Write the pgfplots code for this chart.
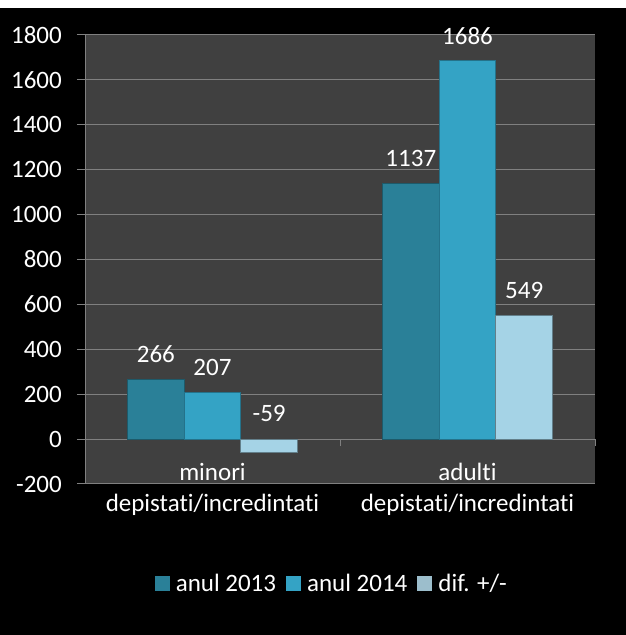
\documentclass[border=0pt]{standalone}
\usepackage{pgfplots}
\pgfplotsset{compat=1.18}
\usepackage{fontspec}
\setmainfont{Carlito}[Ligatures={NoCommon}]
\definecolor{plotbg}{RGB}{64,64,64}
\definecolor{gridc}{RGB}{128,128,128}
\definecolor{cA}{RGB}{42,128,152}
\definecolor{cB}{RGB}{52,163,197}
\definecolor{cC}{RGB}{165,211,230}
\begin{document}
\begin{tikzpicture}
\useasboundingbox (0,0) rectangle (626pt,635pt);
\fill[black] (0,0) rectangle (626pt,635pt);
\fill[white] (0,627pt) rectangle (626pt,635pt);
\begin{axis}[
  at={(85pt,151pt)}, anchor=south west,
  scale only axis, width=510pt, height=449pt,
  xmin=-0.5, xmax=1.5, ymin=-200, ymax=1800,
  axis background/.style={fill=plotbg},
  axis x line=middle, axis y line=left,
  axis line style={-, draw=gridc, line width=1pt},
  hide obscured x ticks=false, hide obscured y ticks=false,
  ytick={-200,0,...,1800},
  ymajorgrids, grid style={draw=gridc, line width=1pt},
  xtick={0,1},
  xticklabels={{minori\\depistati/incredintati},{adulti\\depistati/incredintati}},
  major x tick style={draw=none},
  minor xtick={0.5,1.5},
  minor x tick style={draw=gridc, line width=1pt},
  major y tick style={draw=gridc, line width=1pt},
  tick align=outside,
  major tick length=8pt, minor tick length=7pt,
  /pgf/number format/assume math mode=true,
  /pgf/number format/1000 sep={},
  tick label style={font=\fontsize{25}{31}\selectfont, text=white},
  xticklabel style={align=center, anchor=north, inner sep=0pt, yshift=-16pt},
  yticklabel style={anchor=east, inner sep=0pt, xshift=-15pt},
  ybar, bar width=0.2222,
  nodes near coords,
  nodes near coords align={center},
  every node near coord/.append style={font=\fontsize{25}{30}\selectfont, text=white, yshift=25pt},
  legend columns=3,
  legend style={at={(0.484,-0.2227)}, anchor=center, draw=none, fill=none,
    font=\fontsize{25}{30}\selectfont, text=white,
    /tikz/every even column/.append style={column sep=8pt}},
]
\addplot[bar shift=-0.2222, fill=cA, draw=cA!70!black, line width=1pt,
  legend image code/.code={\fill[cA, draw=none] (0pt,-7.5pt) rectangle (15pt,7.5pt); \path[draw=none, fill=none] (0pt,0pt) -- (19pt,0pt);}]
  coordinates {(0,266) (1,1137)};
\addlegendentry{anul 2013}
\addplot[bar shift=0, fill=cB, draw=cB!70!black, line width=1pt,
  legend image code/.code={\fill[cB, draw=none] (0pt,-7.5pt) rectangle (15pt,7.5pt); \path[draw=none, fill=none] (0pt,0pt) -- (19pt,0pt);}]
  coordinates {(0,207) (1,1686)};
\addlegendentry{anul 2014}
\addplot[bar shift=0.2222, fill=cC, draw=cC!60!black, line width=1pt,
  every node near coord/.append style={yshift=14pt},
  legend image code/.code={\fill[cC!75!gray, draw=none] (0pt,-7.5pt) rectangle (15pt,7.5pt); \path[draw=none, fill=none] (0pt,0pt) -- (19pt,0pt);}]
  coordinates {(0,-59)};
\addlegendentry{dif. +/-}
\addplot[bar shift=0.2222, fill=cC, draw=cC!60!black, line width=1pt, forget plot]
  coordinates {(1,549)};
\end{axis}
\end{tikzpicture}
\end{document}
